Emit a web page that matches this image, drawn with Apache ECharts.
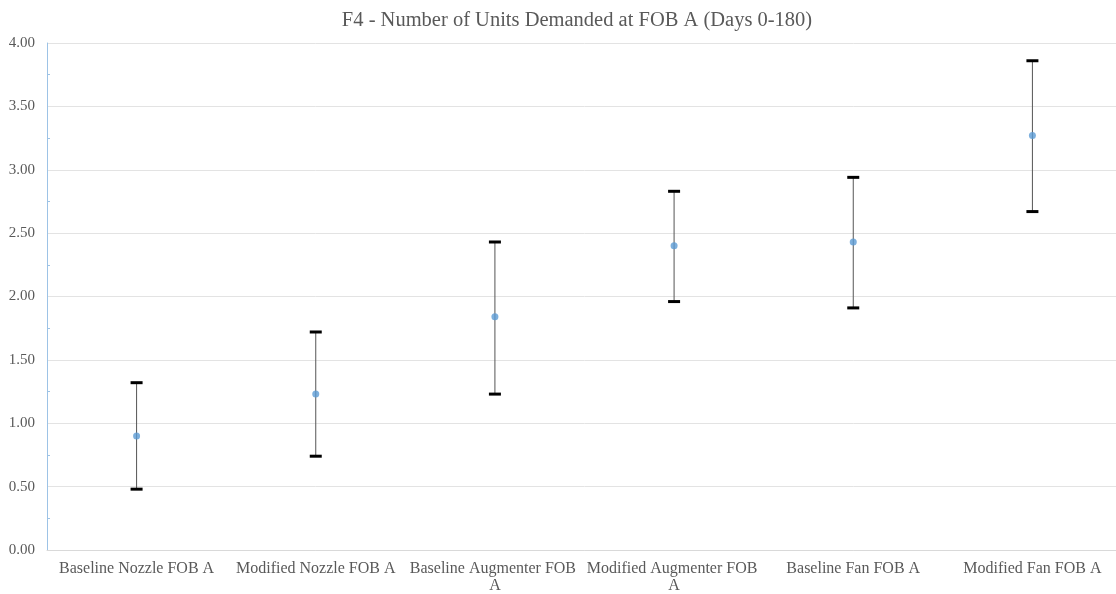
<!DOCTYPE html>
<html>
<head>
<meta charset="utf-8">
<script src="https://cdn.jsdelivr.net/npm/echarts@6/dist/echarts.min.js"></script>
<style>
  html, body { margin: 0; padding: 0; background: #fff; overflow: hidden; }
  #chart { width: 1130px; height: 594px; }
</style>
</head>
<body>
<div id="chart"></div>
<script>
// categories and values
var categories = ['Baseline Nozzle FOB A', 'Modified Nozzle FOB A', 'Baseline Augmenter FOB A',
                  'Modified Augmenter FOB A', 'Baseline Fan FOB A', 'Modified Fan FOB A'];
var means = [0.90, 1.23, 1.84, 2.40, 2.43, 3.27];
var lows  = [0.48, 0.74, 1.23, 1.96, 1.91, 2.67];
var highs = [1.32, 1.72, 2.43, 2.83, 2.94, 3.86];

var font = '"Liberation Serif", "Times New Roman", serif';
var textColor = '#595959';

var barData = categories.map(function (c, i) { return [i, lows[i], highs[i]]; });

var chart = echarts.init(document.getElementById('chart'));
chart.setOption({
    animation: false,
    title: {
        text: 'F4 - Number of Units Demanded at FOB A (Days 0-180)',
        left: 572,
        textAlign: 'center',
        top: 5,
        textStyle: { fontFamily: font, fontSize: 20.5, fontWeight: 'normal', color: textColor }
    },
    grid: { left: 47, top: 43, width: 1075, height: 507, containLabel: false },
    xAxis: {
        type: 'category',
        data: categories,
        boundaryGap: true,
        axisLine: { lineStyle: { color: '#d9d9d9' } },
        axisTick: { show: false },
        axisLabel: {
            fontFamily: font, fontSize: 16, color: textColor,
            interval: 0, margin: 10, width: 178, overflow: 'break', lineHeight: 17
        }
    },
    yAxis: {
        type: 'value',
        min: 0, max: 4, interval: 0.5,
        axisLine: { show: true, lineStyle: { color: '#9dc3e6' } },
        axisTick: { show: false, inside: true },
        minorTick: { show: true, splitNumber: 2, length: 3, lineStyle: { color: '#9dc3e6' } },
        splitLine: { lineStyle: { color: '#e3e3e3' } },
        axisLabel: {
            fontFamily: font, fontSize: 15, color: textColor, margin: 12,
            formatter: function (v) { return v.toFixed(2); }
        }
    },
    series: [
        {
            type: 'custom',
            data: barData,
            z: 2,
            renderItem: function (params, api) {
                var lo = api.coord([api.value(0), api.value(1)]);
                var hi = api.coord([api.value(0), api.value(2)]);
                var half = 6;
                return {
                    type: 'group',
                    children: [
                        { type: 'line', shape: { x1: lo[0], y1: lo[1], x2: hi[0], y2: hi[1] },
                          style: { stroke: '#555', lineWidth: 1 } },
                        { type: 'line', shape: { x1: lo[0] - half, y1: lo[1], x2: lo[0] + half, y2: lo[1] },
                          style: { stroke: '#000', lineWidth: 3 } },
                        { type: 'line', shape: { x1: hi[0] - half, y1: hi[1], x2: hi[0] + half, y2: hi[1] },
                          style: { stroke: '#000', lineWidth: 3 } }
                    ]
                };
            }
        },
        {
            type: 'scatter',
            data: means,
            z: 3,
            symbolSize: 7,
            itemStyle: { color: '#5b9bd5' }
        }
    ]
});
</script>
</body>
</html>
